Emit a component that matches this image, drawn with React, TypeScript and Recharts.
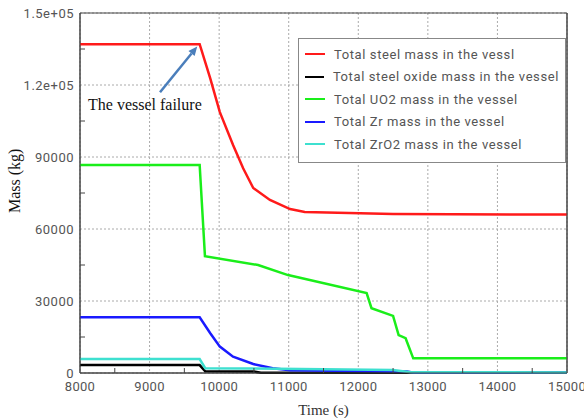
import React from 'react';
import {
  LineChart,
  Line,
  XAxis,
  YAxis,
  CartesianGrid,
  Legend,
  ReferenceArea,
  ReferenceLine,
  ReferenceDot,
} from 'recharts';

// time (s) -> mass (kg)
const steelMass = [
  { t: 8000, m: 137000 }, { t: 9720, m: 137000 }, { t: 9870, m: 123000 },
  { t: 10010, m: 108700 }, { t: 10200, m: 95000 }, { t: 10345, m: 85300 },
  { t: 10490, m: 77100 }, { t: 10730, m: 72100 }, { t: 11020, m: 68300 },
  { t: 11230, m: 67100 }, { t: 12500, m: 66200 }, { t: 15000, m: 66000 },
];
const steelOxideMass = [
  { t: 8000, m: 3300 }, { t: 9720, m: 3300 }, { t: 9800, m: 700 },
  { t: 10500, m: 600 }, { t: 10600, m: 150 }, { t: 15000, m: 100 },
];
const uo2Mass = [
  { t: 8000, m: 86700 }, { t: 9720, m: 86700 }, { t: 9796, m: 48700 },
  { t: 10560, m: 45000 }, { t: 10990, m: 40800 }, { t: 12120, m: 33300 },
  { t: 12190, m: 27000 }, { t: 12500, m: 23800 }, { t: 12580, m: 15800 },
  { t: 12680, m: 14500 }, { t: 12790, m: 6100 }, { t: 15000, m: 6100 },
];
const zrMass = [
  { t: 8000, m: 23200 }, { t: 9720, m: 23200 }, { t: 9870, m: 16700 },
  { t: 10010, m: 11000 }, { t: 10200, m: 6800 }, { t: 10490, m: 3750 },
  { t: 10770, m: 1950 }, { t: 11020, m: 1100 }, { t: 12000, m: 800 },
  { t: 12700, m: 600 }, { t: 12800, m: 100 }, { t: 15000, m: 100 },
];
const zro2Mass = [
  { t: 8000, m: 5800 }, { t: 9720, m: 5800 }, { t: 9800, m: 2000 },
  { t: 10500, m: 1900 }, { t: 11500, m: 1600 }, { t: 12500, m: 1200 },
  { t: 12750, m: 300 }, { t: 15000, m: 250 },
];

const series = [
  { name: 'Total steel mass in the vessl', color: '#ff1a1a', data: steelMass },
  { name: 'Total steel oxide mass in the vessel', color: '#000000', data: steelOxideMass },
  { name: 'Total UO2 mass in the vessel', color: '#1aee1a', data: uo2Mass },
  { name: 'Total Zr mass in the vessel', color: '#1a1aff', data: zrMass },
  { name: 'Total ZrO2 mass in the vessel', color: '#3ee0d0', data: zro2Mass },
];

const xMajor = [8000, 9000, 10000, 11000, 12000, 13000, 14000, 15000];
const xMinor = [8500, 9500, 10500, 11500, 12500, 13500, 14500];
const yMajor = [0, 30000, 60000, 90000, 120000, 150000];
const yMinor = [15000, 45000, 75000, 105000, 135000];
const yLabels: Record<number, string> = {
  0: '0', 30000: '30000', 60000: '60000', 90000: '90000', 120000: '1.2e+05', 150000: '1.5e+05',
};

const xTicks = [...xMajor, ...xMinor].sort((a, b) => a - b);
const yTicks = [...yMajor, ...yMinor].sort((a, b) => a - b);

const tickFont = 'Roboto, "Liberation Sans", sans-serif';
const serif = '"Liberation Serif", "DejaVu Serif", serif';

const YTick = (props: any) => {
  const { x, y, payload, side } = props;
  const v = payload.value;
  if (yMinor.includes(v)) {
    const ax = side === 'right' ? x - 8 : x + 8;
    return <line x1={ax} x2={side === 'right' ? ax - 5 : ax + 5} y1={y} y2={y} stroke="#444" strokeWidth={1} />;
  }
  if (side === 'right') return <g />;
  return (
    <text x={x + 2} y={y} dy={5} textAnchor="end" fontSize={13} letterSpacing={0.5} fill="#555" fontFamily={tickFont}>
      {yLabels[v]}
    </text>
  );
};

const XTick = (props: any) => {
  const { x, y, payload } = props;
  const v = payload.value;
  if (xMinor.includes(v)) {
    return <line x1={x} x2={x} y1={y - 8} y2={y - 13} stroke="#444" strokeWidth={1} />;
  }
  return (
    <text x={x} y={y} dy={10} textAnchor="middle" fontSize={13} letterSpacing={0.3} fill="#555" fontFamily={tickFont}>
      {v}
    </text>
  );
};

const Arrow = (props: any) => {
  const { x1, y1, x2, y2 } = props;
  const ang = Math.atan2(y2 - y1, x2 - x1);
  const L = 9;
  const W = 4;
  const bx = x2 - L * Math.cos(ang);
  const by = y2 - L * Math.sin(ang);
  const px = -Math.sin(ang) * W;
  const py = Math.cos(ang) * W;
  return (
    <g>
      <line x1={x1} y1={y1} x2={bx} y2={by} stroke="#4a7ebb" strokeWidth={2.5} />
      <polygon points={`${x2},${y2} ${bx + px},${by + py} ${bx - px},${by - py}`} fill="#4a7ebb" />
    </g>
  );
};

const LegendBox = () => (
  <div
    style={{
      border: '1px solid #888',
      background: '#fff',
      padding: '4px 6px 6px 6px',
      width: 254,
      fontFamily: tickFont,
      fontSize: 13,
      letterSpacing: 0.6,
      color: '#555',
    }}
  >
    {series.map((s) => (
      <div key={s.name} style={{ display: 'flex', alignItems: 'center', height: 22.5 }}>
        <span style={{ display: 'inline-block', width: 20, height: 2, background: s.color, marginRight: 9 }} />
        <span style={{ whiteSpace: 'nowrap' }}>{s.name}</span>
      </div>
    ))}
  </div>
);

export default function App() {
  return (
    <div style={{ position: 'absolute', left: 0, top: 0, width: 584, height: 418, background: '#fff' }}>
      <LineChart width={584} height={418} margin={{ top: 13, right: 0, left: 0, bottom: 0 }}>
        <CartesianGrid
          stroke="#aaa"
          strokeDasharray="2 2"
          horizontalValues={yMajor}
          verticalValues={xMajor}
        />
        <XAxis
          type="number"
          dataKey="t"
          domain={[8000, 15000]}
          ticks={xTicks}
          interval={0}
          tick={<XTick />}
          tickLine={false}
          axisLine={{ stroke: '#444' }}
          height={45}
          allowDuplicatedCategory={false}
          label={{ value: 'Time (s)', position: 'insideBottom', offset: 3, fontFamily: serif, fontSize: 15, fill: '#333' }}
        />
        <YAxis
          type="number"
          domain={[0, 150000]}
          ticks={yTicks}
          interval={0}
          tick={<YTick side="left" />}
          tickLine={false}
          axisLine={{ stroke: '#444' }}
          width={80}
          label={{ value: 'Mass (kg)', angle: -90, position: 'insideLeft', offset: 14, dy: 20, fontFamily: serif, fontSize: 16, fill: '#111' }}
        />
        <YAxis
          yAxisId="r"
          orientation="right"
          type="number"
          domain={[0, 150000]}
          ticks={yTicks}
          interval={0}
          tick={<YTick side="right" />}
          tickLine={false}
          axisLine={{ stroke: '#444' }}
          width={17}
        />
        <ReferenceArea x1={8000} x2={15000} y1={0} y2={150000} fill="none" stroke="#444" ifOverflow="visible" />
        {series.map((s) => (
          <Line
            key={s.name}
            data={s.data}
            dataKey="m"
            name={s.name}
            type="linear"
            stroke={s.color}
            strokeWidth={2.5}
            dot={false}
            isAnimationActive={false}
          />
        ))}
        <ReferenceLine
          segment={[{ x: 9150, y: 117000 }, { x: 9685, y: 136000 }]}
          shape={<Arrow />}
          ifOverflow="visible"
        />
        <ReferenceDot
          x={8115}
          y={112000}
          r={0}
          ifOverflow="visible"
          label={{ value: 'The vessel failure', position: 'right', offset: 0, fontFamily: serif, fontSize: 16, fill: '#111' }}
        />
        <Legend
          layout="vertical"
          align="center"
          verticalAlign="middle"
          content={<LegendBox />}
          wrapperStyle={{ position: 'absolute', left: 298, top: 38, width: 268 }}
        />
      </LineChart>
    </div>
  );
}
